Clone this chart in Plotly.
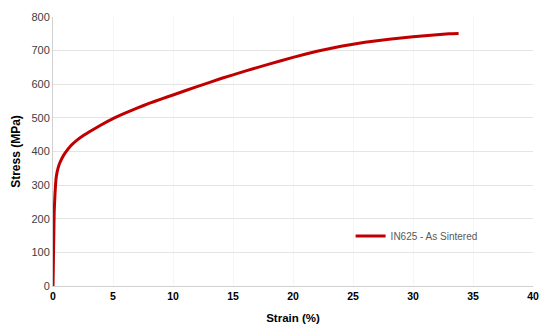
import plotly.graph_objects as go

strain = [0, 0.05, 0.1, 0.17, 0.25, 0.35, 0.5, 0.75, 1.0, 1.5, 2, 2.5, 3, 4, 5, 6, 7, 8, 9, 10, 12, 14, 16, 18, 20, 22, 24, 26, 28, 30, 32, 33, 33.8]
stress = [0, 110, 220, 276, 318, 340, 360, 380, 395, 418, 434, 447, 458, 479, 498, 514, 529, 543, 556, 568, 593, 617, 639, 660, 680, 698, 713, 725, 734, 741, 747, 750, 751]
series_name = "IN625 - As Sintered"
x_ticks = [0, 5, 10, 15, 20, 25, 30, 35, 40]
y_ticks = [0, 100, 200, 300, 400, 500, 600, 700, 800]

fig = go.Figure()
fig.add_trace(go.Scatter(x=strain, y=stress, mode="lines", name=series_name,
                         line=dict(color="#C00000", width=3, shape="spline", smoothing=0.3)))

fig.update_layout(
    width=540, height=324,
    margin=dict(l=53, r=7, t=17, b=38),
    paper_bgcolor="white", plot_bgcolor="white",
    font=dict(family="Liberation Sans, Arial, sans-serif", color="#404040"),
    showlegend=True,
    legend=dict(x=0.62, y=0.186, xanchor="left", yanchor="middle",
                bgcolor="rgba(0,0,0,0)", font=dict(size=10, color="#595959"),
                itemwidth=30, tracegroupgap=0),
    xaxis=dict(range=[0, 40], tickvals=x_ticks, showgrid=True, gridcolor="#f6f6f6",
               showline=True, linecolor="#d0d0d0", linewidth=1, zeroline=False,
               ticks="", automargin=False,
               tickfont=dict(size=10.5, color="#000000", weight="bold"),
               title=dict(text="<b>Strain (%)</b>", font=dict(size=11.5, color="#000000"), standoff=13)),
    yaxis=dict(range=[0, 800], tickvals=y_ticks, showgrid=True, gridcolor="#e4e4e4",
               showline=True, linecolor="#d0d0d0", linewidth=1, zeroline=False,
               ticks="", automargin=False,
               tickfont=dict(size=11, color="#404040"),
               title=dict(text="<b>Stress (MPa)</b>", font=dict(size=12, color="#000000"), standoff=8)),
)

fig.write_html("out.html", config={"displayModeBar": False},
               post_script="document.body.style.margin='0';")
